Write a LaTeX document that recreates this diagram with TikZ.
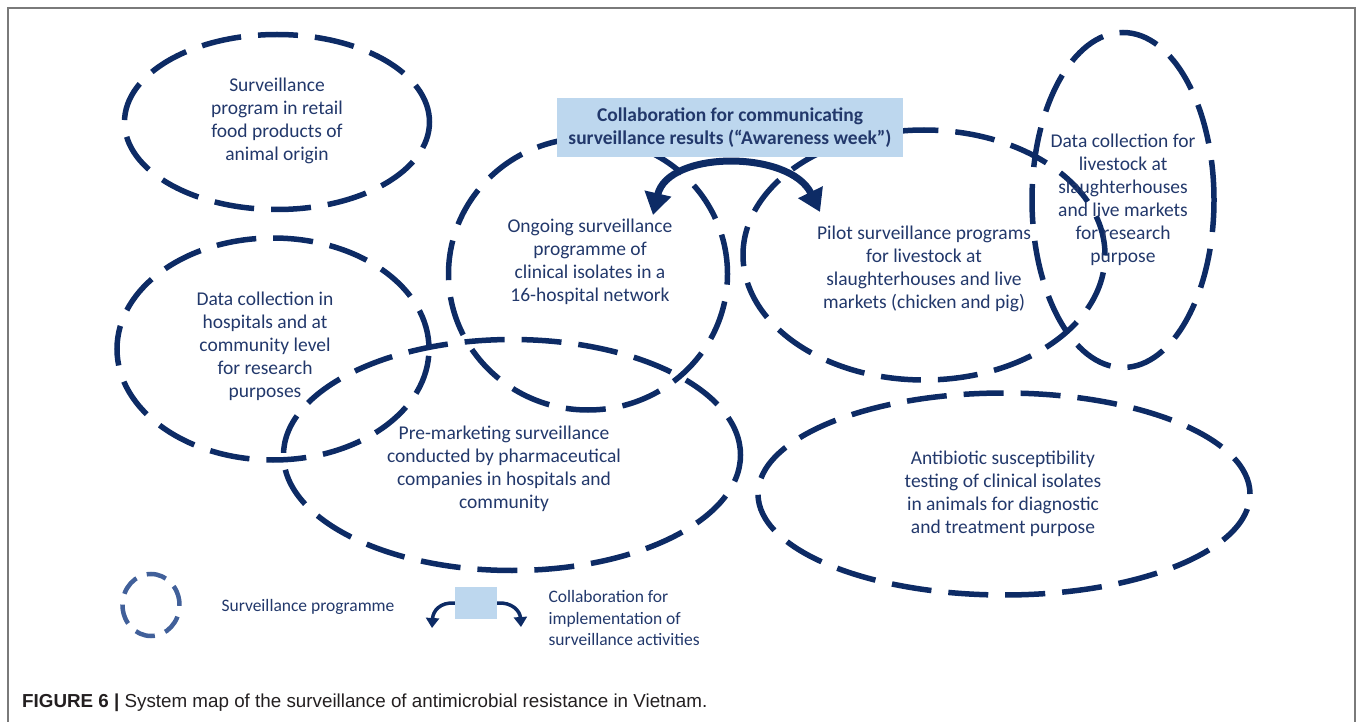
\documentclass[tikz,border=0pt]{standalone}
\usepackage{fontspec}
\setmainfont{Carlito}
\newfontfamily\captionfont{Liberation Sans}
\usetikzlibrary{shapes.geometric, arrows.meta}
\definecolor{navy}{HTML}{0D2B65}
\definecolor{inkblue}{HTML}{22386B}
\definecolor{boxblue}{HTML}{BDD7EE}
\definecolor{legblue}{HTML}{41609A}
\definecolor{framegray}{HTML}{7A7A7A}
\definecolor{capgray}{HTML}{231F20}

\begin{document}
\begin{tikzpicture}[x=1pt, y=-1pt,
	programme/.style={ellipse, draw=navy, line width=5.5pt, dash pattern=on 40pt off 17pt, inner sep=0pt},
	progtext/.style={align=center, text=inkblue, font=\fontsize{19.5}{23}\selectfont},
	legtext/.style={align=left, text=inkblue, font=\fontsize{17.5}{21.5}\selectfont},
	collab/.style={draw=navy, line width=7pt, {Triangle[width=26pt,length=22pt]}-{Triangle[width=26pt,length=22pt]}},
	legarrow/.style={draw=navy, line width=3.5pt, -{Triangle[width=13pt,length=10pt]}}]
		
		\useasboundingbox (0,0) rectangle (1358,722);
		
		%Frame
		\draw[framegray, line width=1.8pt] (8,722) -- (8,8) -- (1355,8) -- (1355,722);
		
		%Programmes
		\node[programme, minimum width=305pt, minimum height=175pt] (retail) at (277,122) {};
		\node[programme, minimum width=312pt, minimum height=222pt] (hospdata) at (273,349) {};
		\node[programme, minimum width=279pt, minimum height=272pt] (ongoing) at (588,274) {};
		\node[programme, minimum width=362pt, minimum height=250pt] (pilot) at (924,255) {};
		\node[programme, minimum width=182pt, minimum height=335pt] (livedata) at (1123,200) {};
		\node[programme, minimum width=457pt, minimum height=231pt] (premarket) at (512,455) {};
		\node[programme, minimum width=492pt, minimum height=202pt] (ast) at (1004,494) {};
		
		%Texts
		\node[progtext] (retailtext) at (277,121) {Surveillance\\program in retail\\food products of\\animal origin};
		\node[progtext] (hosptext) at (265,346) {Data collection in\\hospitals and at\\community level\\for research\\purposes};
		\node[progtext] (ongoingtext) at (590,262) {Ongoing surveillance\\programme of\\clinical isolates in a\\16-hospital network};
		\node[progtext] (pilottext) at (924,269) {Pilot surveillance programs\\for livestock at\\slaughterhouses and live\\markets (chicken and pig)};
		\node[progtext] (livetext) at (1123,200) {Data collection for\\livestock at\\slaughterhouses\\and live markets\\for research\\purpose};
		\node[progtext] (premarkettext) at (504,469) {Pre-marketing surveillance\\conducted by pharmaceutical\\companies in hospitals and\\community};
		\node[progtext] (asttext) at (1003,494) {Antibiotic susceptibility\\testing of clinical isolates\\in animals for diagnostic\\and treatment purpose};
		
		%Collaboration
		\node[fill=boxblue, minimum width=346pt, minimum height=59pt, align=center, text=inkblue, font=\bfseries\fontsize{19.5}{23}\selectfont] (awareness) at (730,127.5) {Collaboration for communicating\\surveillance results (``Awareness week'')};
		\coordinate (toOngoing) at (653,215);
		\coordinate (toPilot) at (820,212);
		\draw[collab] (toOngoing) .. controls (668,150) and (790,150) .. (toPilot);
		
		%Legend
		\node[programme, draw=legblue, line width=4.5pt, dash pattern=on 20pt off 11pt, minimum width=57pt, minimum height=62pt] (legprog) at (151,605) {};
		\node[legtext, anchor=west] (legprogtext) at (218,607) {Surveillance programme};
		\node[fill=boxblue, minimum width=42pt, minimum height=32pt, inner sep=0pt] (legbox) at (476,603) {};
		\coordinate (legL) at (432,628);
		\coordinate (legR) at (521,627);
		\draw[legarrow] (legbox.west) .. controls (440,602) and (433,611) .. (legL);
		\draw[legarrow] (legbox.east) .. controls (512,602) and (520,611) .. (legR);
		\node[legtext, anchor=west] (legcollabtext) at (545,618) {Collaboration for\\implementation of\\surveillance activities};
		
		%Caption
		\node[anchor=base west, inner sep=0pt, text=capgray, font=\captionfont\fontsize{18.8}{22}\selectfont] (caption) at (22,707) {\textbf{FIGURE 6 |} System map of the surveillance of antimicrobial resistance in Vietnam.};
		
	\end{tikzpicture}
\end{document}
